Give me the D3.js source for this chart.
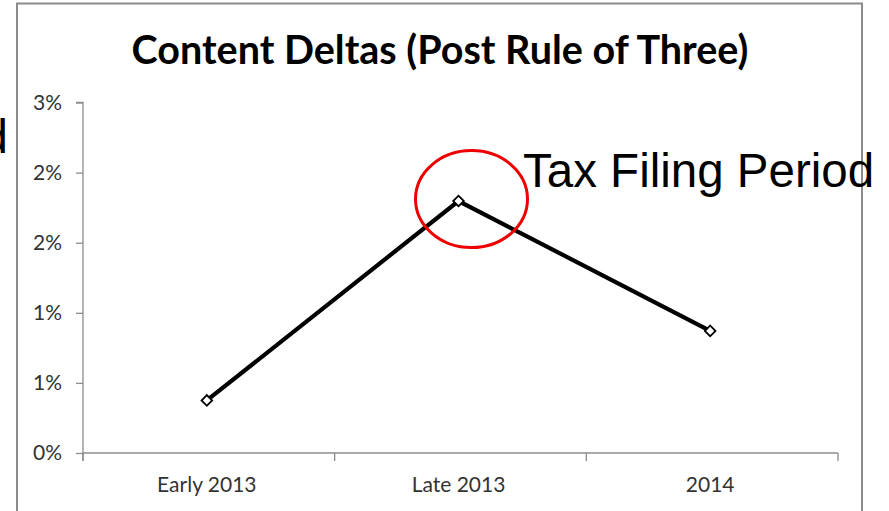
<!DOCTYPE html>
<html>
<head>
<meta charset="utf-8">
<script src="https://cdn.jsdelivr.net/npm/d3@7"></script>
<style>
  html, body { margin: 0; padding: 0; background: #fff; }
  svg { display: block; }
</style>
</head>
<body>
<svg id="chart" width="889" height="511"></svg>
<script>
// Chart data
const categories = ["Early 2013", "Late 2013", "2014"];
const deltas = [0.00375, 0.01797, 0.00871];
const yTicks = [0, 0.005, 0.01, 0.015, 0.02, 0.025];
const titleText = "Content Deltas (Post Rule of Three)";
const calloutText = "Tax Filing Period";

const svg = d3.select("#chart");
const W = 889, H = 511;
const margin = { left: 83, right: 51, top: 102.5, bottom: 58 };
const plotW = W - margin.left - margin.right;
const plotH = H - margin.top - margin.bottom;

// Chart frame
svg.append("rect")
  .attr("x", 17).attr("y", 3.5)
  .attr("width", 845).attr("height", 520)
  .attr("fill", "#fff")
  .attr("stroke", "#8c8c8c")
  .attr("stroke-width", 2);

// Title
svg.append("text")
  .attr("x", 440).attr("y", 64)
  .attr("text-anchor", "middle")
  .attr("font-family", "Lato, 'Open Sans', sans-serif")
  .attr("font-weight", "bold")
  .attr("font-size", 39.5)
  .attr("fill", "#000")
  .text(titleText);

const x = d3.scaleBand().domain(categories).range([0, plotW]);
const y = d3.scaleLinear().domain([0, 0.025]).range([plotH, 0]);

const g = svg.append("g").attr("transform", `translate(${margin.left},${margin.top})`);

// Y axis
const yAxis = d3.axisLeft(y)
  .tickValues(yTicks)
  .tickSize(7)
  .tickPadding(14)
  .tickFormat(d3.format(".0%"));
const yg = g.append("g").call(yAxis);
yg.select(".domain").attr("stroke", "#8c8c8c").attr("stroke-width", 1.3)
  .attr("d", `M-7,0H0V${plotH + 8}`);
yg.selectAll(".tick line").attr("stroke", "#8c8c8c").attr("stroke-width", 1.3);
yg.selectAll(".tick text")
  .attr("font-family", "Lato, sans-serif")
  .attr("font-size", 21)
  .attr("fill", "#333");

// X axis with ticks at category boundaries
const xg = g.append("g").attr("transform", `translate(0,${plotH})`);
xg.append("line")
  .attr("x1", 0).attr("x2", plotW)
  .attr("stroke", "#8c8c8c").attr("stroke-width", 1.3);
const bounds = categories.map(c => x(c)).concat([plotW]);
xg.selectAll("line.tk").data(bounds).join("line")
  .attr("class", "tk")
  .attr("x1", d => d).attr("x2", d => d)
  .attr("y1", 0).attr("y2", 8)
  .attr("stroke", "#8c8c8c").attr("stroke-width", 1.3);
xg.selectAll("text.cat").data(categories).join("text")
  .attr("class", "cat")
  .attr("x", d => x(d) + x.bandwidth() / 2 - 2)
  .attr("y", 39)
  .attr("text-anchor", "middle")
  .attr("font-family", "Lato, sans-serif")
  .attr("font-size", 21)
  .attr("fill", "#333")
  .text(d => d);

// Series line
const pts = categories.map((c, i) => ({ c, v: deltas[i] }));
const line = d3.line()
  .x(d => x(d.c) + x.bandwidth() / 2 - 2)
  .y(d => y(d.v));
g.append("path")
  .datum(pts)
  .attr("d", line)
  .attr("fill", "none")
  .attr("stroke", "#000")
  .attr("stroke-width", 4.2)
  .attr("stroke-linejoin", "miter");

// Diamond markers
g.selectAll("path.mk").data(pts).join("path")
  .attr("class", "mk")
  .attr("d", d3.symbol(d3.symbolSquare, 56))
  .attr("transform", d => `translate(${x(d.c) + x.bandwidth() / 2 - 2},${y(d.v)}) rotate(45)`)
  .attr("fill", "#fff")
  .attr("stroke", "#000")
  .attr("stroke-width", 1.8);

// Callout highlighting the peak
const peak = pts[1];
const px = margin.left + x(peak.c) + x.bandwidth() / 2 - 2;
const py = margin.top + y(peak.v);
svg.append("ellipse")
  .attr("cx", px + 13).attr("cy", py - 2)
  .attr("rx", 56).attr("ry", 48.5)
  .attr("fill", "none")
  .attr("stroke", "#ee0000")
  .attr("stroke-width", 3);

svg.append("text")
  .attr("x", 523).attr("y", 187)
  .attr("font-family", "'Liberation Sans', Arial, sans-serif")
  .attr("font-size", 47.5)
  .attr("fill", "#000")
  .text(calloutText);

// Neighbouring callout running off the left edge
svg.append("text")
  .attr("x", 8).attr("y", 153)
  .attr("text-anchor", "end")
  .attr("font-family", "'Liberation Sans', Arial, sans-serif")
  .attr("font-size", 47.5)
  .attr("fill", "#000")
  .text("Period");
</script>
</body>
</html>
